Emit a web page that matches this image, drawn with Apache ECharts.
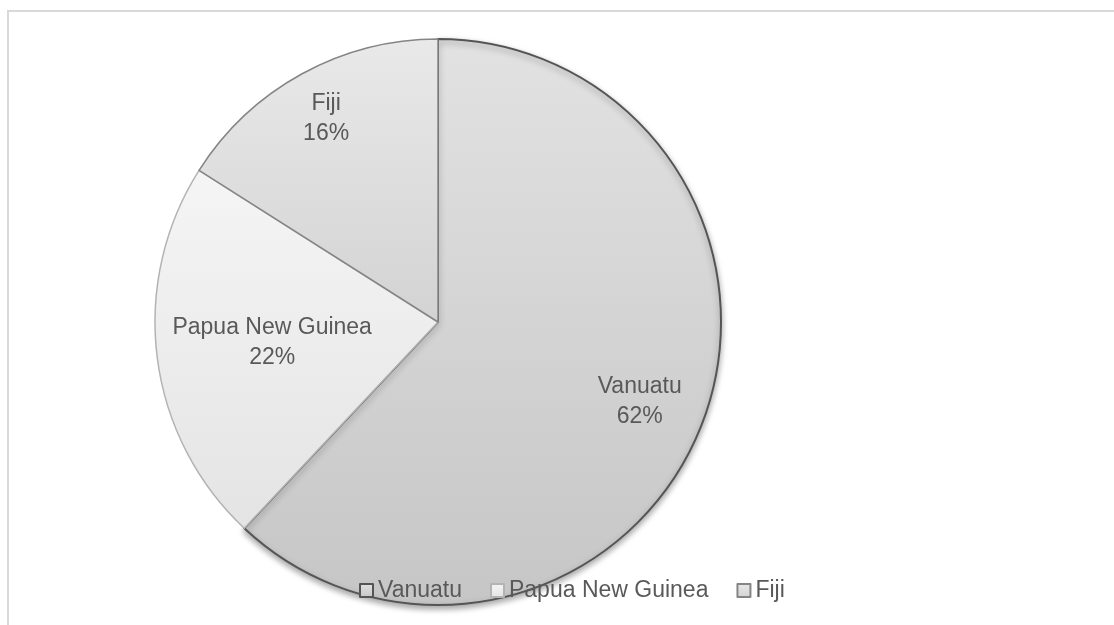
<!DOCTYPE html>
<html>
<head>
<meta charset="utf-8">
<script src="https://cdn.jsdelivr.net/npm/echarts@6/dist/echarts.min.js"></script>
<style>
  html, body { margin: 0; padding: 0; background: #fff; }
  #frame {
    position: absolute; left: 7px; top: 10px;
    width: 1200px; height: 700px;
    border-left: 2px solid #d9d9d9; border-top: 2px solid #d9d9d9;
  }
  #chart { position: absolute; left: 0; top: 0; width: 1114px; height: 625px; }
</style>
</head>
<body>
<div id="frame"></div>
<div id="chart"></div>
<script>
// 数据
const countries = ["Vanuatu", "Papua New Guinea", "Fiji"];
const shares = [62, 22, 16];

// 每个扇区的样式（渐变上下两色 + 边框色）
const fillTop = ["#e2e2e2", "#f5f5f5", "#e9e9e9"];
const fillBottom = ["#c6c6c6", "#e4e4e4", "#d3d3d3"];
const borderColors = ["#555555", "#b3b3b3", "#858585"];

const R = 283;
const center = [438, 322];
const textColor = "#595959";
const font = "'Liberation Sans', Arial, sans-serif";

const myChart = echarts.init(document.getElementById("chart"));

const pieData = countries.map((name, i) => ({
  name: name,
  value: shares[i],
  itemStyle: {
    color: new echarts.graphic.LinearGradient(0, 0, 0, 1, [
      { offset: 0, color: fillTop[i] },
      { offset: 1, color: fillBottom[i] },
    ]),
    borderColor: borderColors[i],
    borderWidth: i === 0 ? 2 : 1.5,
    shadowBlur: i === 0 ? 6 : 0,
    shadowOffsetY: i === 0 ? 3 : 0,
    shadowColor: "rgba(0,0,0,0.35)",
  },
}));

// 只显示一个标签的透明系列，用内半径控制标签离圆心的距离
const labelSeries = (idx, inner) => ({
  type: "pie",
  silent: true,
  center: center,
  radius: [inner, R],
  startAngle: 90,
  clockwise: true,
  z: 5,
  data: countries.map((name, i) => ({
    name: name,
    value: shares[i],
    itemStyle: { color: "rgba(0,0,0,0)", borderWidth: 0 },
    label: { show: i === idx },
  })),
  label: {
    position: "inside",
    formatter: (p) => p.name + "\n" + p.value + "%",
    color: textColor,
    fontSize: 23,
    lineHeight: 30,
    fontFamily: font,
    align: "center",
  },
  labelLine: { show: false },
  emphasis: { disabled: true },
});

const option = {
  animation: false,
  legend: {
    data: countries,
    left: 359,
    top: 579,
    padding: 0,
    itemWidth: 13,
    itemHeight: 13,
    itemGap: 28,
    icon: "rect",
    textStyle: { color: textColor, fontSize: 23, fontFamily: font },
  },
  series: [
    {
      type: "pie",
      center: center,
      radius: [0, R],
      startAngle: 90,
      clockwise: true,
      z: 1,
      data: pieData,
      label: { show: false },
      labelLine: { show: false },
      emphasis: { disabled: true },
    },
    labelSeries(0, R * 0.512),
    labelSeries(1, R * 0.16),
    labelSeries(2, R * 0.62),
  ],
};

myChart.setOption(option);
</script>
</body>
</html>
